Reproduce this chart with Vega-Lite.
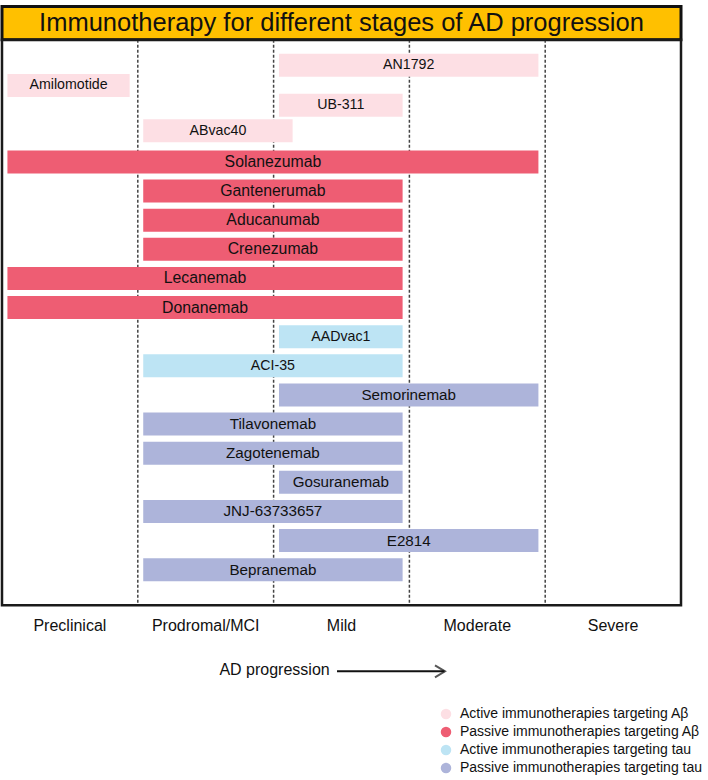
{
  "$schema": "https://vega.github.io/schema/vega-lite/v6.json",
  "width": 708,
  "height": 780,
  "autosize": {"type": "none"},
  "padding": 0,
  "background": "white",
  "config": {"view": {"stroke": null}, "font": "Liberation Sans"},
  "datasets": {
    "drugs": [
      {"name": "AN1792", "cat": "Active immunotherapies targeting Aβ", "start": 2.04, "end": 3.95, "mid": 2.995, "row": -3.32},
      {"name": "Amilomotide", "cat": "Active immunotherapies targeting Aβ", "start": 0.04, "end": 0.94, "mid": 0.49, "row": -2.63},
      {"name": "UB-311", "cat": "Active immunotherapies targeting Aβ", "start": 2.04, "end": 2.95, "mid": 2.495, "row": -1.95},
      {"name": "ABvac40", "cat": "Active immunotherapies targeting Aβ", "start": 1.04, "end": 2.14, "mid": 1.59, "row": -1.07},
      {"name": "Solanezumab", "cat": "Passive immunotherapies targeting Aβ", "start": 0.04, "end": 3.95, "mid": 1.995, "row": 0},
      {"name": "Gantenerumab", "cat": "Passive immunotherapies targeting Aβ", "start": 1.04, "end": 2.95, "mid": 1.995, "row": 1},
      {"name": "Aducanumab", "cat": "Passive immunotherapies targeting Aβ", "start": 1.04, "end": 2.95, "mid": 1.995, "row": 2},
      {"name": "Crenezumab", "cat": "Passive immunotherapies targeting Aβ", "start": 1.04, "end": 2.95, "mid": 1.995, "row": 3},
      {"name": "Lecanemab", "cat": "Passive immunotherapies targeting Aβ", "start": 0.04, "end": 2.95, "mid": 1.495, "row": 4},
      {"name": "Donanemab", "cat": "Passive immunotherapies targeting Aβ", "start": 0.04, "end": 2.95, "mid": 1.495, "row": 5},
      {"name": "AADvac1", "cat": "Active immunotherapies targeting tau", "start": 2.04, "end": 2.95, "mid": 2.495, "row": 6},
      {"name": "ACI-35", "cat": "Active immunotherapies targeting tau", "start": 1.04, "end": 2.95, "mid": 1.995, "row": 7},
      {"name": "Semorinemab", "cat": "Passive immunotherapies targeting tau", "start": 2.04, "end": 3.95, "mid": 2.995, "row": 8},
      {"name": "Tilavonemab", "cat": "Passive immunotherapies targeting tau", "start": 1.04, "end": 2.95, "mid": 1.995, "row": 9},
      {"name": "Zagotenemab", "cat": "Passive immunotherapies targeting tau", "start": 1.04, "end": 2.95, "mid": 1.995, "row": 10},
      {"name": "Gosuranemab", "cat": "Passive immunotherapies targeting tau", "start": 2.04, "end": 2.95, "mid": 2.495, "row": 11},
      {"name": "JNJ-63733657", "cat": "Passive immunotherapies targeting tau", "start": 1.04, "end": 2.95, "mid": 1.995, "row": 12},
      {"name": "E2814", "cat": "Passive immunotherapies targeting tau", "start": 2.04, "end": 3.95, "mid": 2.995, "row": 13},
      {"name": "Bepranemab", "cat": "Passive immunotherapies targeting tau", "start": 1.04, "end": 2.95, "mid": 1.995, "row": 14}
    ],
    "stages": [
      {"stage": "Preclinical", "center": 0.5},
      {"stage": "Prodromal/MCI", "center": 1.5},
      {"stage": "Mild", "center": 2.5},
      {"stage": "Moderate", "center": 3.5},
      {"stage": "Severe", "center": 4.5}
    ],
    "bounds": [{"b": 1}, {"b": 2}, {"b": 3}, {"b": 4}]
  },
  "layer": [
    {
      "data": {"values": [{}]},
      "mark": {"type": "rect", "fill": "#FFC000", "stroke": "#111111", "strokeWidth": 3},
      "encoding": {
        "x": {"datum": 0, "type": "quantitative", "scale": {"domain": [-0.0147, 5.1988], "nice": false, "zero": false}, "axis": null},
        "x2": {"datum": 5},
        "y": {"datum": -5.34, "type": "quantitative", "scale": {"domain": [-5.39, 21.05], "reverse": true, "nice": false, "zero": false}, "axis": null},
        "y2": {"datum": -4.2}
      }
    },
    {
      "data": {"values": [{"t": "Immunotherapy for different stages of AD progression"}]},
      "mark": {"type": "text", "font": "Liberation Sans", "fontSize": 25.5, "color": "#111111", "align": "center", "baseline": "middle"},
      "encoding": {
        "x": {"datum": 2.5, "type": "quantitative"},
        "y": {"datum": -4.77, "type": "quantitative"},
        "text": {"field": "t"}
      }
    },
    {
      "data": {"name": "bounds"},
      "mark": {"type": "rule", "stroke": "#444444", "strokeWidth": 1.5, "strokeDash": [3, 2]},
      "encoding": {
        "x": {"field": "b", "type": "quantitative"},
        "y": {"datum": -4.2, "type": "quantitative"},
        "y2": {"datum": 15.22}
      }
    },
    {
      "data": {"name": "drugs"},
      "mark": {"type": "bar", "orient": "horizontal", "height": 23},
      "encoding": {
        "x": {"field": "start", "type": "quantitative"},
        "x2": {"field": "end"},
        "y": {"field": "row", "type": "quantitative"},
        "color": {
          "field": "cat",
          "type": "nominal",
          "scale": {
            "domain": ["Active immunotherapies targeting Aβ", "Passive immunotherapies targeting Aβ", "Active immunotherapies targeting tau", "Passive immunotherapies targeting tau"],
            "range": ["#FDDFE4", "#EE5D73", "#BDE4F4", "#ADB4DA"]
          },
          "legend": {
            "orient": "none",
            "legendX": 439,
            "legendY": 707,
            "title": null,
            "symbolType": "circle",
            "symbolSize": 110,
            "symbolStrokeWidth": 0,
            "symbolOpacity": 1,
            "labelFont": "Liberation Sans",
            "labelFontSize": 14,
            "labelColor": "#111111",
            "labelOffset": 7,
            "rowPadding": 4,
            "padding": 0,
            "labelLimit": 400
          }
        }
      }
    },
    {
      "data": {"name": "drugs"},
      "transform": [{"filter": {"field": "cat", "oneOf": ["Active immunotherapies targeting Aβ", "Active immunotherapies targeting tau"]}}],
      "mark": {"type": "text", "font": "Liberation Sans", "fontSize": 14.2, "color": "#111111", "align": "center", "baseline": "middle"},
      "encoding": {
        "x": {"field": "mid", "type": "quantitative"},
        "y": {"field": "row", "type": "quantitative"},
        "text": {"field": "name"}
      }
    },
    {
      "data": {"name": "drugs"},
      "transform": [{"filter": {"field": "cat", "equal": "Passive immunotherapies targeting Aβ"}}],
      "mark": {"type": "text", "font": "Liberation Sans", "fontSize": 15.8, "color": "#111111", "align": "center", "baseline": "middle"},
      "encoding": {
        "x": {"field": "mid", "type": "quantitative"},
        "y": {"field": "row", "type": "quantitative"},
        "text": {"field": "name"}
      }
    },
    {
      "data": {"name": "drugs"},
      "transform": [{"filter": {"field": "cat", "equal": "Passive immunotherapies targeting tau"}}],
      "mark": {"type": "text", "font": "Liberation Sans", "fontSize": 15.2, "color": "#111111", "align": "center", "baseline": "middle"},
      "encoding": {
        "x": {"field": "mid", "type": "quantitative"},
        "y": {"field": "row", "type": "quantitative"},
        "text": {"field": "name"}
      }
    },
    {
      "data": {"values": [{}]},
      "mark": {"type": "rect", "filled": false, "fill": null, "stroke": "#1a1a1a", "strokeWidth": 2.5},
      "encoding": {
        "x": {"datum": 0, "type": "quantitative"},
        "x2": {"datum": 5},
        "y": {"datum": -4.2, "type": "quantitative"},
        "y2": {"datum": 15.22}
      }
    },
    {
      "data": {"name": "stages"},
      "mark": {"type": "text", "font": "Liberation Sans", "fontSize": 16, "color": "#111111", "align": "center", "baseline": "middle"},
      "encoding": {
        "x": {"field": "center", "type": "quantitative"},
        "y": {"datum": 15.93, "type": "quantitative"},
        "text": {"field": "stage"}
      }
    },
    {
      "data": {"values": [{"t": "AD progression"}]},
      "mark": {"type": "text", "font": "Liberation Sans", "fontSize": 16, "color": "#111111", "align": "center", "baseline": "middle"},
      "encoding": {
        "x": {"datum": 2.007, "type": "quantitative"},
        "y": {"datum": 17.46, "type": "quantitative"},
        "text": {"field": "t"}
      }
    },
    {
      "data": {"values": [{}]},
      "mark": {"type": "rule", "stroke": "#111111", "strokeWidth": 2},
      "encoding": {
        "x": {"datum": 2.467, "type": "quantitative"},
        "x2": {"datum": 3.258},
        "y": {"datum": 17.49, "type": "quantitative"}
      }
    },
    {
      "data": {"values": [{}]},
      "mark": {"type": "point", "shape": "M-1,-0.6L0,0L-1,0.6", "size": 400, "filled": false, "stroke": "#111111", "strokeWidth": 2},
      "encoding": {
        "x": {"datum": 3.262, "type": "quantitative"},
        "y": {"datum": 17.49, "type": "quantitative"}
      }
    }
  ]
}
